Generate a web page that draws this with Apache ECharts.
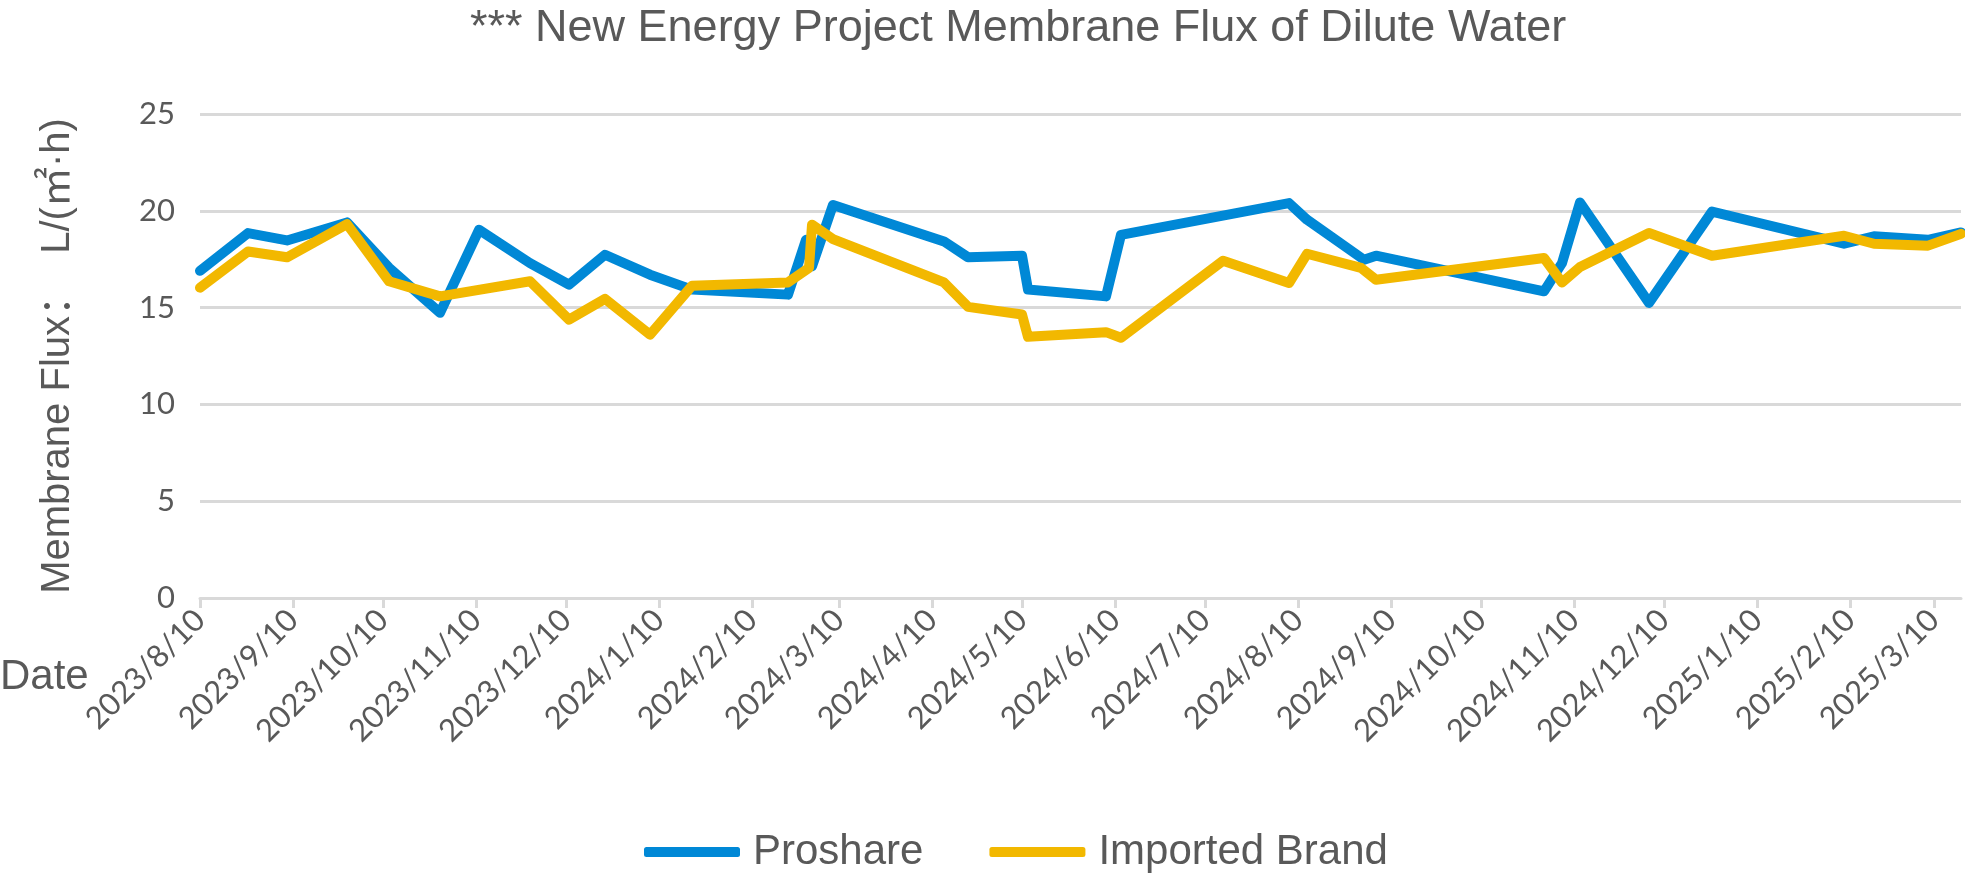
<!DOCTYPE html>
<html>
<head>
<meta charset="utf-8">
<script src="https://cdn.jsdelivr.net/npm/echarts@6/dist/echarts.min.js"></script>
<style>
html,body{margin:0;padding:0;background:#fff;}
#chart{width:1965px;height:877px;}
</style>
</head>
<body>
<div id="chart"></div>
<script>
const titleText = '*** New Energy Project Membrane Flux of Dilute Water';
const yAxisTitle = 'Membrane Flux：  L/(㎡·h)';
const xAxisTitle = 'Date';
const seriesNames = ['Proshare', 'Imported Brand'];

const proshareDates = ['2023-08-10','2023-08-26','2023-09-08','2023-09-28','2023-10-12','2023-10-29','2023-11-11','2023-11-28','2023-12-11','2023-12-23','2024-01-07','2024-01-21','2024-02-22','2024-02-28','2024-03-01','2024-03-08','2024-04-14','2024-04-22','2024-05-10','2024-05-12','2024-06-07','2024-06-12','2024-08-07','2024-08-13','2024-09-01','2024-09-05','2024-10-31','2024-11-06','2024-11-12','2024-12-05','2024-12-26','2025-02-08','2025-02-18','2025-03-08','2025-03-19'];
const proshareValues = [16.9,18.85,18.47,19.4,17.06,14.73,19.02,17.3,16.19,17.73,16.7,15.93,15.67,18.5,17.13,20.3,18.42,17.6,17.68,15.93,15.58,18.76,20.4,19.54,17.47,17.68,15.84,17.3,20.43,15.24,19.96,18.3,18.68,18.5,18.88];

const importedDates = ['2023-08-10','2023-08-26','2023-09-08','2023-09-28','2023-10-12','2023-10-29','2023-11-28','2023-12-11','2023-12-23','2024-01-07','2024-01-21','2024-02-22','2024-02-29','2024-03-01','2024-03-08','2024-04-14','2024-04-22','2024-05-10','2024-05-12','2024-06-07','2024-06-12','2024-07-16','2024-08-07','2024-08-13','2024-08-31','2024-09-05','2024-10-31','2024-11-06','2024-11-12','2024-12-05','2024-12-26','2025-02-08','2025-02-18','2025-03-08','2025-03-19'];
const importedValues = [16.03,17.9,17.6,19.31,16.36,15.58,16.36,14.38,15.45,13.6,16.13,16.3,17.05,19.28,18.54,16.3,15.04,14.64,13.49,13.73,13.44,17.42,16.27,17.78,17.05,16.44,17.56,16.3,17.1,18.85,17.68,18.71,18.3,18.2,18.81];

const xTickLabels = ['2023/8/10','2023/9/10','2023/10/10','2023/11/10','2023/12/10','2024/1/10','2024/2/10','2024/3/10','2024/4/10','2024/5/10','2024/6/10','2024/7/10','2024/8/10','2024/9/10','2024/10/10','2024/11/10','2024/12/10','2025/1/10','2025/2/10','2025/3/10'];

function parseSlash(s){ const p = s.split('/').map(Number); return Date.UTC(p[0], p[1]-1, p[2]); }
function parseDash(s){ const p = s.split('-').map(Number); return Date.UTC(p[0], p[1]-1, p[2]); }
const tickValues = xTickLabels.map(parseSlash);
const tickMap = {}; tickValues.forEach((v,i)=>{ tickMap[v] = xTickLabels[i]; });

const textColor = '#595959';
const gridColor = '#D9D9D9';

const chart = echarts.init(document.getElementById('chart'), null, {renderer:'canvas'});
const option = {
  backgroundColor: '#ffffff',
  animation: false,
  title: {
    text: titleText,
    left: 465,
    top: 1,
    textStyle: { fontFamily: 'Liberation Sans', fontSize: 45, fontWeight: 'normal', color: textColor }
  },
  legend: {
    data: seriesNames,
    left: 639,
    top: 826,
    icon: 'roundRect',
    itemWidth: 96,
    itemHeight: 10,
    itemGap: 66,
    textStyle: { fontFamily: 'Liberation Sans', fontSize: 42, color: textColor, padding: [0,0,0,8] }
  },
  graphic: [{
    type: 'text',
    left: 0,
    top: 656,
    style: { text: xAxisTitle, font: '42px "Liberation Sans"', fill: textColor }
  }],
  grid: { left: 200, right: 4, top: 114, bottom: 279, containLabel: false },
  xAxis: {
    type: 'value',
    min: 'dataMin',
    max: 'dataMax',
    axisLine: { show: true, lineStyle: { color: gridColor, width: 3 } },
    axisTick: { show: true, customValues: tickValues, length: 10, lineStyle: { color: gridColor, width: 3 } },
    axisLabel: {
      customValues: tickValues,
      rotate: 45,
      margin: 17,
      fontFamily: 'Lato',
      fontSize: 31,
      color: textColor,
      formatter: function(v){ return tickMap[v] || ''; }
    },
    splitLine: { show: false }
  },
  yAxis: {
    type: 'value',
    min: 0, max: 25, interval: 5,
    name: yAxisTitle,
    nameLocation: 'middle',
    nameGap: 122,
    nameRotate: 90,
    nameTextStyle: { fontFamily: 'Liberation Sans, "Noto Sans CJK SC"', fontSize: 40, color: textColor },
    axisLine: { show: false },
    axisTick: { show: false },
    axisLabel: { fontFamily: 'Lato', fontSize: 31, color: textColor, margin: 25 },
    splitLine: { lineStyle: { color: gridColor, width: 3 } }
  },
  series: [
    {
      name: seriesNames[0], type: 'line', symbol: 'none',
      data: proshareDates.map((d,i)=>[parseDash(d), proshareValues[i]]),
      lineStyle: { color: '#0088D6', width: 10, cap: 'round', join: 'round' },
      itemStyle: { color: '#0088D6' }
    },
    {
      name: seriesNames[1], type: 'line', symbol: 'none',
      data: importedDates.map((d,i)=>[parseDash(d), importedValues[i]]),
      lineStyle: { color: '#F2B800', width: 10, cap: 'round', join: 'round' },
      itemStyle: { color: '#F2B800' }
    }
  ]
};
chart.setOption(option);
</script>
</body>
</html>
